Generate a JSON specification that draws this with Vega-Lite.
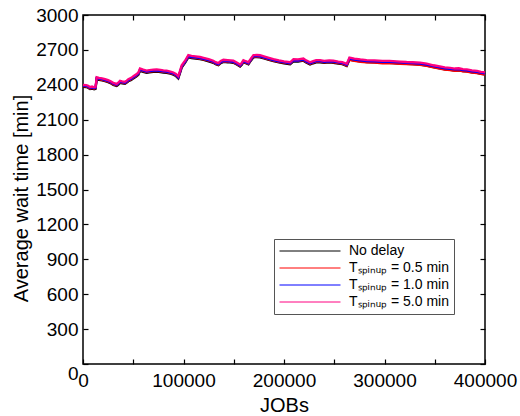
{
  "$schema": "https://vega.github.io/schema/vega-lite/v6.json",
  "width": 402,
  "height": 349,
  "autosize": "none",
  "padding": {"left": 83, "top": 15, "right": 35, "bottom": 52},
  "background": "white",
  "config": {
    "font": "Liberation Sans",
    "view": {"stroke": "black", "strokeWidth": 1.5},
    "axis": {
      "grid": false,
      "domain": false,
      "offset": -5,
      "tickColor": "black",
      "tickWidth": 1.2,
      "tickSize": 5,
      "labelColor": "black",
      "labelFont": "Liberation Sans",
      "labelFontSize": 19,
      "titleFont": "Liberation Sans",
      "titleFontSize": 20,
      "titleFontWeight": "normal",
      "titleColor": "black",
      "labelFlush": false
    }
  },
  "data": {
    "values": [
      {"jobs": 0, "a": 2383, "b": 2388, "c": 2393, "d": 2400},
      {"jobs": 3000, "a": 2381, "b": 2386, "c": 2391, "d": 2398},
      {"jobs": 5000, "a": 2375, "b": 2380, "c": 2385, "d": 2392},
      {"jobs": 7000, "a": 2364, "b": 2369, "c": 2374, "d": 2381},
      {"jobs": 9000, "a": 2368, "b": 2373, "c": 2378, "d": 2385},
      {"jobs": 11000, "a": 2362, "b": 2367, "c": 2372, "d": 2379},
      {"jobs": 12500, "a": 2366, "b": 2371, "c": 2376, "d": 2383},
      {"jobs": 13600, "a": 2449, "b": 2454, "c": 2459, "d": 2466},
      {"jobs": 16000, "a": 2443, "b": 2448, "c": 2453, "d": 2460},
      {"jobs": 19000, "a": 2438, "b": 2443, "c": 2448, "d": 2455},
      {"jobs": 22000, "a": 2431, "b": 2436, "c": 2441, "d": 2448},
      {"jobs": 25000, "a": 2423, "b": 2428, "c": 2433, "d": 2440},
      {"jobs": 28000, "a": 2411, "b": 2416, "c": 2421, "d": 2428},
      {"jobs": 30200, "a": 2399, "b": 2404, "c": 2409, "d": 2416},
      {"jobs": 33500, "a": 2390, "b": 2396, "c": 2400, "d": 2408},
      {"jobs": 35000, "a": 2400, "b": 2406, "c": 2410, "d": 2418},
      {"jobs": 36800, "a": 2416, "b": 2422, "c": 2426, "d": 2434},
      {"jobs": 39000, "a": 2412, "b": 2418, "c": 2422, "d": 2430},
      {"jobs": 41800, "a": 2408, "b": 2414, "c": 2418, "d": 2426},
      {"jobs": 43500, "a": 2418, "b": 2424, "c": 2428, "d": 2436},
      {"jobs": 45100, "a": 2430, "b": 2436, "c": 2440, "d": 2448},
      {"jobs": 48000, "a": 2441, "b": 2447, "c": 2451, "d": 2460},
      {"jobs": 50100, "a": 2455, "b": 2461, "c": 2465, "d": 2474},
      {"jobs": 53000, "a": 2470, "b": 2477, "c": 2481, "d": 2490},
      {"jobs": 55100, "a": 2486, "b": 2493, "c": 2497, "d": 2506},
      {"jobs": 56700, "a": 2520, "b": 2527, "c": 2531, "d": 2540},
      {"jobs": 60000, "a": 2511, "b": 2517, "c": 2521, "d": 2530},
      {"jobs": 63300, "a": 2503, "b": 2509, "c": 2513, "d": 2522},
      {"jobs": 66000, "a": 2507, "b": 2513, "c": 2517, "d": 2526},
      {"jobs": 70000, "a": 2512, "b": 2517, "c": 2521, "d": 2530},
      {"jobs": 73300, "a": 2514, "b": 2519, "c": 2523, "d": 2532},
      {"jobs": 77000, "a": 2510, "b": 2515, "c": 2519, "d": 2528},
      {"jobs": 80000, "a": 2505, "b": 2511, "c": 2515, "d": 2524},
      {"jobs": 83200, "a": 2503, "b": 2509, "c": 2513, "d": 2522},
      {"jobs": 87000, "a": 2495, "b": 2501, "c": 2505, "d": 2514},
      {"jobs": 89900, "a": 2487, "b": 2493, "c": 2497, "d": 2506},
      {"jobs": 92500, "a": 2475, "b": 2481, "c": 2485, "d": 2494},
      {"jobs": 94800, "a": 2455, "b": 2461, "c": 2464, "d": 2474},
      {"jobs": 96500, "a": 2500, "b": 2506, "c": 2510, "d": 2520},
      {"jobs": 98200, "a": 2548, "b": 2554, "c": 2558, "d": 2568},
      {"jobs": 101500, "a": 2588, "b": 2594, "c": 2598, "d": 2607},
      {"jobs": 104800, "a": 2636, "b": 2642, "c": 2646, "d": 2655},
      {"jobs": 108000, "a": 2630, "b": 2635, "c": 2639, "d": 2648},
      {"jobs": 112000, "a": 2626, "b": 2631, "c": 2635, "d": 2644},
      {"jobs": 116400, "a": 2621, "b": 2626, "c": 2630, "d": 2639},
      {"jobs": 120000, "a": 2614, "b": 2619, "c": 2623, "d": 2632},
      {"jobs": 125000, "a": 2602, "b": 2607, "c": 2611, "d": 2620},
      {"jobs": 129700, "a": 2589, "b": 2594, "c": 2598, "d": 2607},
      {"jobs": 132000, "a": 2577, "b": 2582, "c": 2586, "d": 2595},
      {"jobs": 134700, "a": 2568, "b": 2573, "c": 2577, "d": 2586},
      {"jobs": 137000, "a": 2586, "b": 2591, "c": 2595, "d": 2604},
      {"jobs": 139700, "a": 2597, "b": 2602, "c": 2606, "d": 2615},
      {"jobs": 144000, "a": 2594, "b": 2599, "c": 2603, "d": 2612},
      {"jobs": 149600, "a": 2589, "b": 2594, "c": 2598, "d": 2607},
      {"jobs": 153000, "a": 2574, "b": 2579, "c": 2583, "d": 2592},
      {"jobs": 156300, "a": 2557, "b": 2562, "c": 2566, "d": 2575},
      {"jobs": 158000, "a": 2572, "b": 2577, "c": 2581, "d": 2590},
      {"jobs": 159600, "a": 2594, "b": 2599, "c": 2603, "d": 2612},
      {"jobs": 162000, "a": 2585, "b": 2590, "c": 2594, "d": 2603},
      {"jobs": 164600, "a": 2576, "b": 2581, "c": 2585, "d": 2594},
      {"jobs": 167000, "a": 2607, "b": 2612, "c": 2616, "d": 2625},
      {"jobs": 169600, "a": 2637, "b": 2642, "c": 2646, "d": 2655},
      {"jobs": 173000, "a": 2638, "b": 2643, "c": 2647, "d": 2656},
      {"jobs": 176200, "a": 2636, "b": 2641, "c": 2645, "d": 2654},
      {"jobs": 180000, "a": 2627, "b": 2632, "c": 2636, "d": 2645},
      {"jobs": 185000, "a": 2614, "b": 2619, "c": 2623, "d": 2632},
      {"jobs": 189500, "a": 2603, "b": 2608, "c": 2612, "d": 2620},
      {"jobs": 195000, "a": 2593, "b": 2598, "c": 2602, "d": 2610},
      {"jobs": 200000, "a": 2585, "b": 2590, "c": 2594, "d": 2602},
      {"jobs": 206100, "a": 2577, "b": 2582, "c": 2586, "d": 2594},
      {"jobs": 209400, "a": 2601, "b": 2607, "c": 2611, "d": 2620},
      {"jobs": 214000, "a": 2599, "b": 2605, "c": 2609, "d": 2618},
      {"jobs": 219300, "a": 2607, "b": 2613, "c": 2617, "d": 2626},
      {"jobs": 222000, "a": 2591, "b": 2597, "c": 2601, "d": 2610},
      {"jobs": 225900, "a": 2575, "b": 2581, "c": 2585, "d": 2594},
      {"jobs": 229000, "a": 2585, "b": 2591, "c": 2595, "d": 2604},
      {"jobs": 232000, "a": 2593, "b": 2599, "c": 2603, "d": 2612},
      {"jobs": 235900, "a": 2593, "b": 2599, "c": 2603, "d": 2612},
      {"jobs": 240000, "a": 2588, "b": 2593, "c": 2598, "d": 2606},
      {"jobs": 245000, "a": 2592, "b": 2597, "c": 2602, "d": 2610},
      {"jobs": 249200, "a": 2589, "b": 2594, "c": 2599, "d": 2607},
      {"jobs": 254000, "a": 2582, "b": 2587, "c": 2592, "d": 2600},
      {"jobs": 258000, "a": 2577, "b": 2582, "c": 2587, "d": 2595},
      {"jobs": 262400, "a": 2562, "b": 2566, "c": 2572, "d": 2580},
      {"jobs": 265100, "a": 2617, "b": 2614, "c": 2626, "d": 2634},
      {"jobs": 270000, "a": 2608, "b": 2605, "c": 2617, "d": 2625},
      {"jobs": 276000, "a": 2601, "b": 2598, "c": 2610, "d": 2618},
      {"jobs": 282300, "a": 2595, "b": 2592, "c": 2604, "d": 2612},
      {"jobs": 290000, "a": 2593, "b": 2590, "c": 2602, "d": 2610},
      {"jobs": 298000, "a": 2588, "b": 2585, "c": 2597, "d": 2605},
      {"jobs": 305000, "a": 2589, "b": 2586, "c": 2598, "d": 2606},
      {"jobs": 315500, "a": 2583, "b": 2580, "c": 2592, "d": 2600},
      {"jobs": 322000, "a": 2579, "b": 2577, "c": 2588, "d": 2596},
      {"jobs": 328000, "a": 2577, "b": 2575, "c": 2586, "d": 2594},
      {"jobs": 335400, "a": 2574, "b": 2572, "c": 2583, "d": 2591},
      {"jobs": 342000, "a": 2565, "b": 2563, "c": 2574, "d": 2582},
      {"jobs": 348700, "a": 2551, "b": 2549, "c": 2560, "d": 2568},
      {"jobs": 355000, "a": 2541, "b": 2539, "c": 2550, "d": 2558},
      {"jobs": 360000, "a": 2533, "b": 2531, "c": 2542, "d": 2550},
      {"jobs": 365300, "a": 2529, "b": 2527, "c": 2538, "d": 2546},
      {"jobs": 370000, "a": 2523, "b": 2521, "c": 2532, "d": 2540},
      {"jobs": 374000, "a": 2525, "b": 2523, "c": 2534, "d": 2542},
      {"jobs": 378000, "a": 2518, "b": 2516, "c": 2527, "d": 2535},
      {"jobs": 381900, "a": 2515, "b": 2513, "c": 2524, "d": 2532},
      {"jobs": 387000, "a": 2507, "b": 2505, "c": 2516, "d": 2524},
      {"jobs": 392000, "a": 2503, "b": 2501, "c": 2512, "d": 2520},
      {"jobs": 396000, "a": 2495, "b": 2493, "c": 2504, "d": 2512},
      {"jobs": 400000, "a": 2489, "b": 2487, "c": 2498, "d": 2506}
    ]
  },
  "transform": [{"fold": ["a", "b", "c", "d"], "as": ["series", "wait"]}],
  "layer": [
    {
      "mark": {"type": "line", "strokeWidth": 2.3},
      "encoding": {
        "x": {
          "field": "jobs",
          "type": "quantitative",
          "scale": {"domain": [0, 400000], "nice": false, "zero": false},
          "axis": {
            "orient": "bottom",
            "title": "JOBs",
            "values": [0, 50000, 100000, 150000, 200000, 250000, 300000, 350000, 400000],
            "labelExpr": "datum.value % 100000 === 0 ? datum.label : ''",
            "format": "d",
            "labelPadding": 7,
            "titlePadding": 5
          }
        },
        "y": {
          "field": "wait",
          "type": "quantitative",
          "scale": {"domain": [0, 3000], "nice": false, "zero": false},
          "axis": {
            "orient": "left",
            "title": "Average wait time [min]",
            "values": [0, 300, 600, 900, 1200, 1500, 1800, 2100, 2400, 2700, 3000],
            "format": "d",
            "labelPadding": 5,
            "titlePadding": 4,
            "titleY": 183,
            "labelBaseline": {"condition": {"test": "datum.value === 0", "value": "top"}, "value": "middle"}
          }
        },
        "color": {
          "field": "series",
          "type": "nominal",
          "scale": {"domain": ["a", "b", "c", "d"], "range": ["#000000", "#ff0000", "#0000ff", "#ff0080"]},
          "legend": {
            "orient": "none",
            "legendX": 191,
            "legendY": 224,
            "title": null,
            "symbolType": "M-6.1,0H6.1",
            "symbolSize": 100,
            "symbolStrokeWidth": 1,
            "symbolOffset": 24,
            "labelOffset": 32,
            "labelFont": "Liberation Sans",
            "labelFontSize": 14,
            "labelColor": "black",
            "rowPadding": 3,
            "padding": 5,
            "strokeColor": "#555555",
            "fillColor": "white",
            "labelExpr": "datum.label === 'a' ? 'No delay' : datum.label === 'b' ? 'Tₛₚᵢₙᵤₚ = 0.5 min' : datum.label === 'c' ? 'Tₛₚᵢₙᵤₚ = 1.0 min' : 'Tₛₚᵢₙᵤₚ = 5.0 min'"
          }
        }
      }
    },
    {
      "mark": {"type": "point", "opacity": 0},
      "encoding": {
        "x": {
          "field": "jobs",
          "type": "quantitative",
          "scale": {"domain": [0, 400000], "nice": false, "zero": false},
          "axis": {
            "orient": "top",
            "title": null,
            "labels": false,
            "values": [0, 50000, 100000, 150000, 200000, 250000, 300000, 350000, 400000]
          }
        },
        "y": {
          "field": "wait",
          "type": "quantitative",
          "scale": {"domain": [0, 3000], "nice": false, "zero": false},
          "axis": {
            "orient": "right",
            "title": null,
            "labels": false,
            "values": [0, 300, 600, 900, 1200, 1500, 1800, 2100, 2400, 2700, 3000]
          }
        }
      }
    }
  ],
  "resolve": {"scale": {"x": "independent", "y": "independent"}, "axis": {"x": "independent", "y": "independent"}}
}
